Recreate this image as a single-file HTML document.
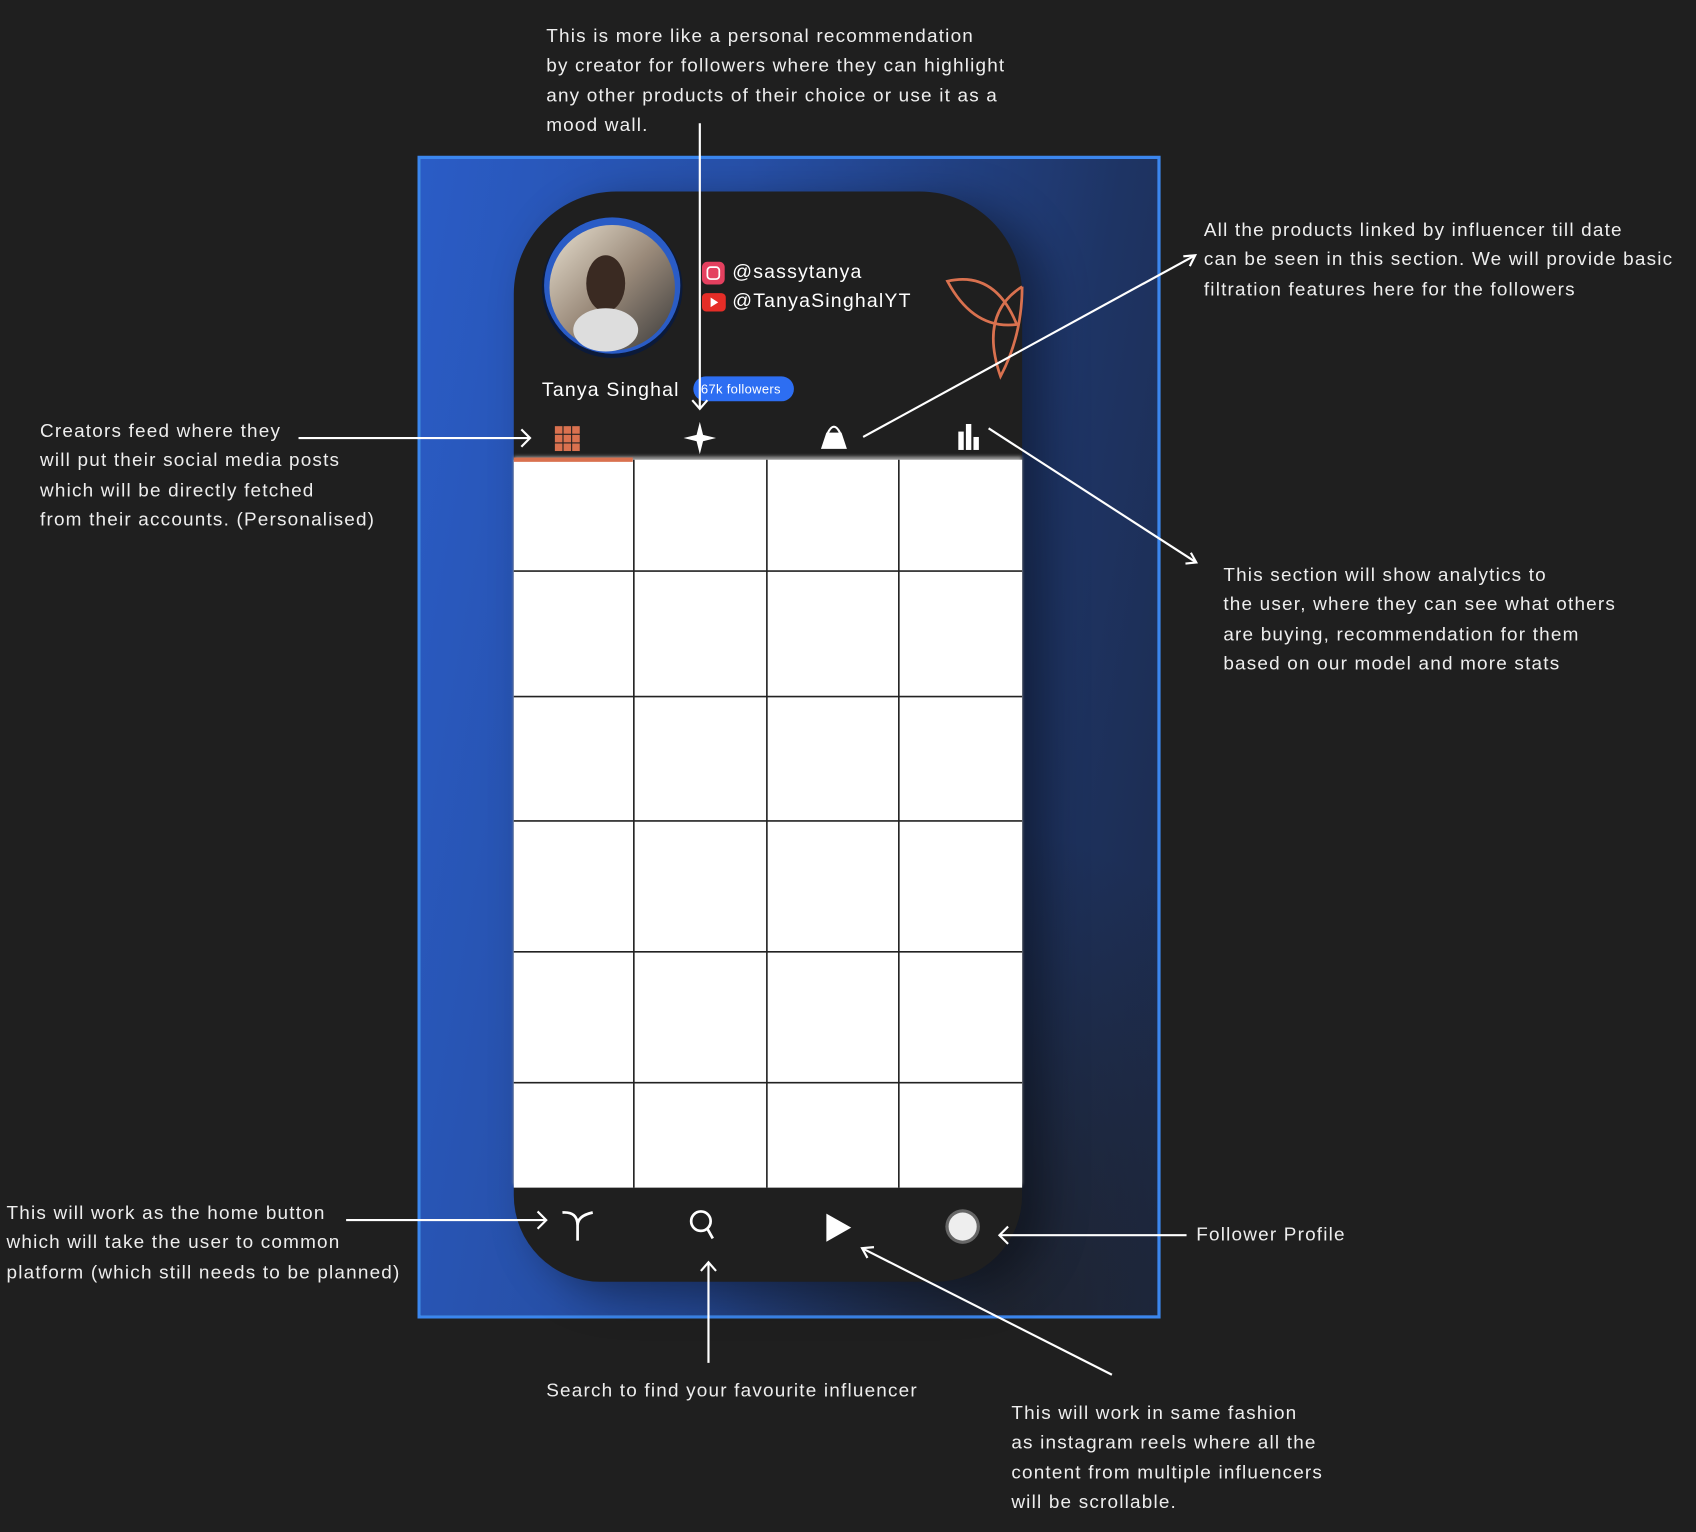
<!DOCTYPE html>
<html><head><meta charset="utf-8"><style>
html,body{margin:0;padding:0;background:#1f1f1f;width:1696px;height:1532px;overflow:hidden}
#w{position:absolute;left:0;top:0;width:1568px;height:1416px;transform:scale(1.08163);transform-origin:0 0;font-family:"Liberation Sans",sans-serif;color:#f2f2f2}
.t{position:absolute;font-size:17.5px;line-height:27.3px;white-space:nowrap;color:#eee;letter-spacing:1.1px}
</style></head><body><div id="w">
<div style="position:absolute;left:386px;top:144px;width:681px;height:1069px;border:3px solid #3b86ee;background:linear-gradient(100deg,#2a5cc6 0%,#2750a8 35%,#1e3464 75%,#1c2a4a 100%)"></div>
<div style="position:absolute;left:389px;top:147px;width:681px;height:1069px;background:radial-gradient(ellipse 60% 60% at 80% 100%,rgba(30,30,30,0.7),rgba(30,30,30,0) 70%)"></div>
<div style="position:absolute;left:475px;top:177px;width:470px;height:1008px;background:#1f1f1f;border-radius:95px 95px 80px 80px;box-shadow:20px 10px 40px rgba(0,0,0,0.4)"></div>
<div style="position:absolute;left:475px;top:425px;width:470px;height:673px;background:#fff;box-shadow:0 -3px 3px #999"></div>
<div style="position:absolute;left:475px;top:423px;width:110px;height:4px;background:#d9714f"></div>
<svg style="position:absolute;left:0;top:0" width="1568" height="1416">
<g stroke="#222" stroke-width="1.5">
<line x1="586" y1="425" x2="586" y2="1098"/><line x1="709" y1="425" x2="709" y2="1098"/><line x1="831" y1="425" x2="831" y2="1098"/>
<line x1="475" y1="528" x2="945" y2="528"/><line x1="475" y1="644" x2="945" y2="644"/><line x1="475" y1="759" x2="945" y2="759"/><line x1="475" y1="880" x2="945" y2="880"/><line x1="475" y1="1001" x2="945" y2="1001"/>
</g>
<defs><linearGradient id="av" x1="0" y1="0" x2="1" y2="1"><stop offset="0" stop-color="#e8e0d0"/><stop offset="0.5" stop-color="#9a8a7a"/><stop offset="1" stop-color="#3a3a3a"/></linearGradient></defs>
<circle cx="566" cy="266" r="65" fill="#0b1a3a"/><circle cx="566" cy="264" r="63" fill="#2a5cc6"/><circle cx="566" cy="266" r="58" fill="url(#av)"/>
<ellipse cx="560" cy="262" rx="18" ry="26" fill="#3a2a22"/><ellipse cx="560" cy="305" rx="30" ry="20" fill="#ddd"/>
<g fill="none" stroke="#d9714f" stroke-width="2.5"><path d="M876 260 Q920 250 940 300 Q900 305 876 260Z"/><path d="M945 265 Q905 290 925 348 Q945 310 945 265"/></g>
<rect x="649" y="242" width="21" height="21" rx="5" fill="#e4405f"/><rect x="654" y="247" width="11" height="11" rx="3" fill="none" stroke="#fff" stroke-width="1.6"/>
<rect x="649" y="271" width="22" height="17" rx="4" fill="#e52d27"/><path d="M657 275 L664 279.5 L657 284Z" fill="#fff"/>
<rect x="641" y="348" width="93" height="23" rx="11.5" fill="#2d6ef2"/>
<g fill="#d9714f"><rect x="513" y="394" width="7" height="7"/><rect x="521" y="394" width="7" height="7"/><rect x="529" y="394" width="7" height="7"/><rect x="513" y="402" width="7" height="7"/><rect x="521" y="402" width="7" height="7"/><rect x="529" y="402" width="7" height="7"/><rect x="513" y="410" width="7" height="7"/><rect x="521" y="410" width="7" height="7"/><rect x="529" y="410" width="7" height="7"/></g>
<path d="M647 390 L650 402 L662 405 L650 408 L647 420 L644 408 L632 405 L644 402Z" fill="#fff"/>
<path d="M759 415 L783 415 L778 400 L764 400Z" fill="#fff"/><path d="M765 401 Q771 388 777 401" fill="none" stroke="#fff" stroke-width="2"/>
<g fill="#fff"><rect x="886" y="399" width="5" height="17"/><rect x="893" y="392" width="5" height="24"/><rect x="900" y="404" width="5" height="12"/></g>
<g fill="none" stroke="#fff" stroke-width="2.5"><path d="M534 1147 L534 1133 M520 1121 Q534 1120 534 1133 Q534 1124 548 1121"/><circle cx="648" cy="1129" r="9"/><line x1="654" y1="1136" x2="659" y2="1145"/></g>
<path d="M764 1122 L787 1135 L764 1148Z" fill="#fff"/>
<circle cx="890" cy="1134" r="16" fill="#666"/><circle cx="890" cy="1134" r="13" fill="#eee"/>
<g stroke="#fff" stroke-width="2" fill="none">
<line x1="647" y1="114" x2="647" y2="378"/><path d="M640 370 L647 378 L654 370"/>
<line x1="276" y1="405" x2="490" y2="405"/><path d="M482 397 L490 405 L482 413"/>
<line x1="798" y1="404" x2="1105" y2="236"/><path d="M1094 237 L1105 236 L1100 246"/>
<line x1="914" y1="396" x2="1106" y2="520"/><path d="M1096 521 L1106 520 L1101 511"/>
<line x1="320" y1="1128" x2="505" y2="1128"/><path d="M497 1120 L505 1128 L497 1136"/>
<line x1="655" y1="1260" x2="655" y2="1167"/><path d="M648 1175 L655 1167 L662 1175"/>
<line x1="1028" y1="1271" x2="797" y2="1154"/><path d="M808 1153 L797 1154 L802 1163"/>
<line x1="1097" y1="1142" x2="924" y2="1142"/><path d="M932 1134 L924 1142 L932 1150"/>
</g>
</svg>
<div class="t" style="left:501px;top:347px;font-size:18px;color:#fff">Tanya Singhal</div>
<div class="t" style="left:648px;top:347px;font-size:12px;color:#fff;letter-spacing:0.3px">67k followers</div>
<div class="t" style="left:677px;top:238px;font-size:18px;color:#fff">@sassytanya</div>
<div class="t" style="left:677px;top:265px;font-size:18px;color:#fff">@TanyaSinghalYT</div>
<div class="t" style="left:505px;top:20px">This is more like a personal recommendation<br>by creator for followers where they can highlight<br>any other products of their choice or use it as a<br>mood wall.</div>
<div class="t" style="left:1113px;top:199px">All the products linked by influencer till date<br>can be seen in this section. We will provide basic<br>filtration features here for the followers</div>
<div class="t" style="left:37px;top:385px">Creators feed where they<br>will put their social media posts<br>which will be directly fetched<br>from their accounts. (Personalised)</div>
<div class="t" style="left:1131px;top:518px">This section will show analytics to<br>the user, where they can see what others<br>are buying, recommendation for them<br>based on our model and more stats</div>
<div class="t" style="left:6px;top:1108px">This will work as the home button<br>which will take the user to common<br>platform (which still needs to be planned)</div>
<div class="t" style="left:1106px;top:1128px">Follower Profile</div>
<div class="t" style="left:505px;top:1272px">Search to find your favourite influencer</div>
<div class="t" style="left:935px;top:1293px">This will work in same fashion<br>as instagram reels where all the<br>content from multiple influencers<br>will be scrollable.</div>
</div></body></html>
